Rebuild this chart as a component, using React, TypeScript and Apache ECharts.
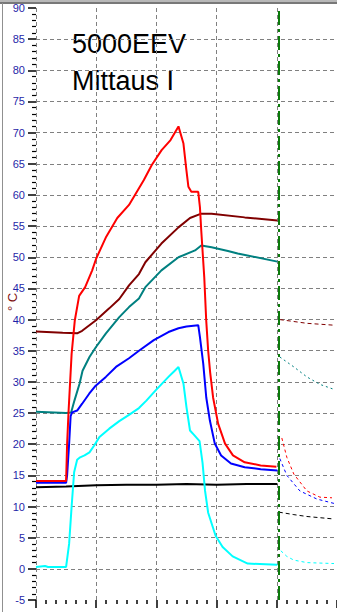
import React, { useEffect, useRef } from "react";
import * as echarts from "echarts";

const TITLE_LINES = ["5000EEV", "Mittaus I"];
const Y_UNIT = "° C";
const FORECAST_START = 24.2;

// measured (solid) series: [time, temperature]
const blackMeasured: [number, number][] = [
  [0, 13.1], [3, 13.2], [6, 13.4], [9, 13.5], [12, 13.5], [15, 13.6], [18, 13.5], [21, 13.6], [24.06, 13.6],
];
const cyanMeasured: [number, number][] = [
  [0, 0.3], [0.9, 0.45], [1.2, 0.3], [3.0, 0.3], [3.3, 4], [3.55, 10], [3.8, 15.5], [4.1, 17.5], [4.4, 17.9],
  [4.84, 18.2], [5.33, 18.7], [5.8, 19.8], [6.3, 21.1], [7.3, 22.5], [8.3, 23.7], [9.27, 24.7], [10.26, 25.8],
  [11.0, 27], [11.9, 28.6], [13.2, 30.8], [13.7, 31.6], [14.2, 32.4], [14.7, 29.7], [15.0, 25.9], [15.35, 22.2],
  [15.75, 21.5], [16.3, 20.5], [16.6, 17], [16.85, 12.5], [17.16, 9], [17.9, 5.3], [18.6, 3.5], [19.6, 2.0],
  [21.1, 0.85], [24.06, 0.65],
];
const tealMeasured: [number, number][] = [
  [0, 25.2], [3.0, 25.0], [3.5, 25.1], [3.83, 27], [4.34, 29.7], [4.64, 31.8], [5.33, 34], [5.98, 35.6],
  [6.97, 37.8], [8.3, 40.4], [9.27, 42], [10.26, 43.4], [10.9, 45.2], [12.5, 47.9], [14.2, 50], [15.85, 51.1],
  [16.47, 51.9], [17.5, 51.6], [19.13, 51.0], [20.1, 50.6], [24.06, 49.3],
];
const maroonMeasured: [number, number][] = [
  [0, 38.1], [2.66, 37.9], [4.1, 37.8], [4.6, 38.2], [5.98, 39.9], [7.3, 41.8], [8.3, 43.3], [9.27, 45.5],
  [10.26, 47.3], [10.9, 49.2], [12.5, 52.2], [14.2, 54.8], [15.35, 56.3], [16.47, 57.0], [17.5, 57.0],
  [20.8, 56.4], [24.06, 55.9],
];
const blueMeasured: [number, number][] = [
  [0, 13.8], [3.0, 13.8], [3.1, 15], [3.3, 20], [3.45, 24.5], [3.6, 25.1], [4.1, 25.4], [4.6, 26.5], [5.3, 28.1],
  [5.95, 29.4], [6.96, 30.8], [7.97, 32.4], [9.27, 33.8], [10.26, 35], [11.74, 36.7], [13.2, 38], [14.2, 38.6],
  [15.0, 38.9], [16.17, 39.1], [16.34, 37.2], [16.67, 32.9], [16.97, 27.5], [17.33, 23.8], [17.82, 20.1],
  [18.45, 18.2], [19.43, 16.9], [20.8, 16.3], [22.4, 16.0], [24.06, 15.8],
];
const redMeasured: [number, number][] = [
  [0, 14.1], [3.0, 14.1], [3.1, 20], [3.25, 25.4], [3.55, 34.5], [3.87, 39.9], [4.3, 43.8], [4.9, 45.2],
  [5.6, 47.9], [6.0, 49.8], [7.0, 53.3], [8.1, 56.3], [9.27, 58.4], [10.75, 62.4], [11.54, 64.8], [12.52, 67.2],
  [13.41, 68.8], [14.2, 71.0], [14.69, 68.3], [14.99, 64], [15.19, 61.3], [15.48, 60.5], [16.17, 60.5],
  [16.34, 58], [16.47, 54.3], [16.77, 46.8], [16.96, 40], [17.16, 35], [17.36, 31.5], [17.65, 27.5],
  [18.15, 23.3], [18.84, 20.1], [19.63, 18.2], [20.8, 17.1], [22.39, 16.6], [23.96, 16.4],
];

// forecast (dotted) series after the green marker
const maroonForecast: [number, number][] = [[24.3, 40.0], [27.0, 39.4], [29.7, 39.1]];
const tealForecast: [number, number][] = [[24.3, 34.0], [25.7, 32.4], [27.0, 30.8], [28.3, 29.6], [29.7, 28.8]];
const redForecast: [number, number][] = [[24.5, 21.0], [25.0, 17.9], [25.7, 15.2], [27.0, 12.5], [28.3, 11.5], [29.5, 11.4]];
const blueForecast: [number, number][] = [[24.3, 17.7], [25.0, 15.0], [26.3, 12.5], [28.0, 11.2], [29.7, 10.5]];
const blackForecast: [number, number][] = [[24.2, 9.1], [25.7, 8.7], [27.0, 8.4], [29.7, 8.0]];
const cyanForecast: [number, number][] = [[24.4, 2.9], [25.0, 2.0], [25.7, 1.4], [27.0, 1.0], [29.7, 0.85]];

const FONT = "Liberation Sans";
const GRID_LINE = { color: "#808080", type: [4, 3] as number[], width: 1 };

function solid(name: string, color: string, data: [number, number][], extra: any = {}) {
  return {
    name, type: "line", data, showSymbol: false, symbol: "none",
    lineStyle: { color, width: 2 }, itemStyle: { color }, silent: true, ...extra,
  };
}
function dotted(name: string, color: string, data: [number, number][], dash: number[]) {
  return {
    name, type: "line", data, showSymbol: false, symbol: "none",
    lineStyle: { color, width: 1, type: dash }, itemStyle: { color }, silent: true,
  };
}

export default function App() {
  const ref = useRef<HTMLDivElement>(null);
  useEffect(() => {
    if (!ref.current) return;
    const chart = echarts.init(ref.current, undefined, { renderer: "svg" });
    chart.setOption({
      animation: false,
      backgroundColor: "#ffffff",
      textStyle: { fontFamily: FONT },
      grid: { left: 36, right: -3.2, top: 8, bottom: 12 },
      xAxis: {
        type: "value", min: 0, max: 30, interval: 6,
        axisLine: { show: false, onZero: false },
        axisLabel: { show: false },
        axisTick: { show: true, length: 8, lineStyle: { color: "#000", width: 1.5 } },
        minorTick: { show: true, splitNumber: 6, length: 4, lineStyle: { color: "#000", width: 1.5 } },
        splitLine: { show: true, showMinLine: true, showMaxLine: false, lineStyle: GRID_LINE },
      },
      yAxis: {
        type: "value", min: -5, max: 90, interval: 5,
        axisLine: { show: false, onZero: false },
        axisTick: { show: true, length: 8, lineStyle: { color: "#000", width: 1.5 } },
        minorTick: { show: true, splitNumber: 5, length: 4, lineStyle: { color: "#000", width: 1.2 } },
        axisLabel: { color: "#1f1fa8", fontSize: 11, margin: 11, fontFamily: FONT },
        splitLine: { show: true, showMinLine: false, showMaxLine: false, lineStyle: GRID_LINE },
      },
      graphic: [
        { type: "rect", shape: { x: 0, y: 0, width: 337, height: 2 }, style: { fill: "#b8b8b8" }, silent: true },
        { type: "rect", shape: { x: 0, y: 2, width: 337, height: 2 }, style: { fill: "#787878" }, silent: true },
        { type: "rect", shape: { x: 2, y: 3, width: 1, height: 609 }, style: { fill: "#909090" }, silent: true },
        {
          type: "text", x: 72, y: 43.7, silent: true,
          style: { text: TITLE_LINES[0], fontSize: 27, fontFamily: FONT, fill: "#000", verticalAlign: "middle", align: "left" },
        },
        {
          type: "text", x: 72, y: 80.5, silent: true,
          style: { text: TITLE_LINES[1], fontSize: 27, fontFamily: FONT, fill: "#000", verticalAlign: "middle", align: "left" },
        },
        {
          type: "text", x: 12.5, y: 302, rotation: Math.PI / 2, silent: true,
          style: { text: Y_UNIT, fontSize: 13, fontFamily: FONT, fill: "#801010", verticalAlign: "middle", align: "center" },
        },
      ],
      series: [
        solid("black", "#000000", blackMeasured, {
          markLine: {
            silent: true, symbol: ["none", "none"], label: { show: false },
            lineStyle: { color: "#0a7a0a", width: 2, type: [14, 4, 3, 4] },
            data: [{ xAxis: FORECAST_START }],
          },
        }),
        solid("cyan", "#00ffff", cyanMeasured),
        solid("teal", "#008080", tealMeasured),
        solid("maroon", "#800000", maroonMeasured),
        solid("blue", "#0000ff", blueMeasured),
        solid("red", "#ff0000", redMeasured),
        dotted("black-f", "#000000", blackForecast, [4, 3]),
        dotted("cyan-f", "#00ffff", cyanForecast, [3, 3]),
        dotted("teal-f", "#008080", tealForecast, [2, 3]),
        dotted("maroon-f", "#800000", maroonForecast, [4, 3]),
        dotted("blue-f", "#0000ff", blueForecast, [3, 3]),
        dotted("red-f", "#ff0000", redForecast, [3, 3]),
      ],
    });
    return () => chart.dispose();
  }, []);
  return <div ref={ref} style={{ position: "fixed", left: 0, top: 0, width: 337, height: 612 }} />;
}
